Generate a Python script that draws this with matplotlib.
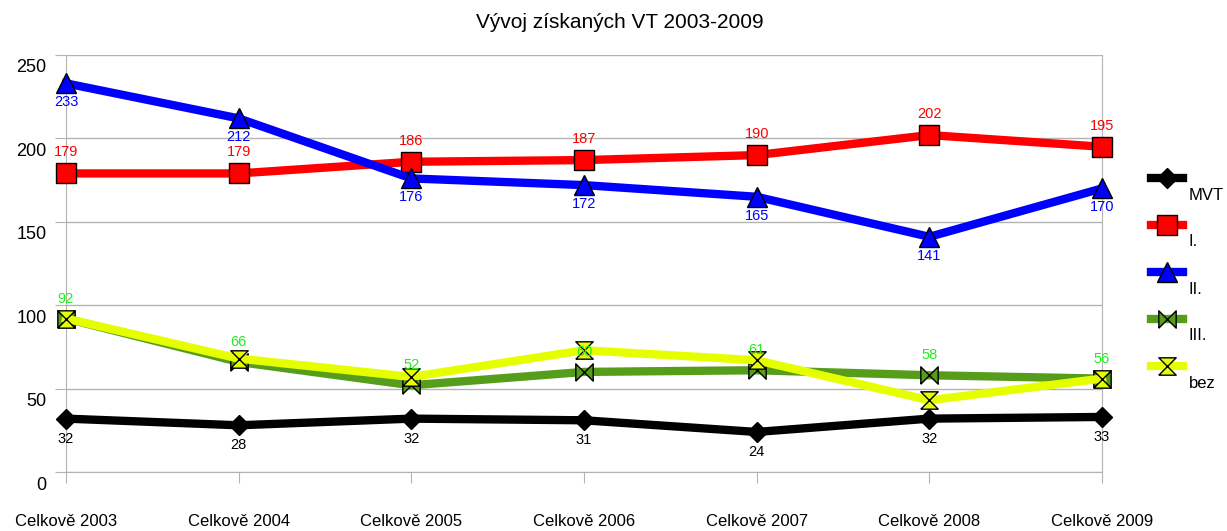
import matplotlib
matplotlib.use("Agg")
import matplotlib.pyplot as plt
from matplotlib.lines import Line2D
from matplotlib.transforms import ScaledTranslation

plt.rcParams['font.family'] = ['Liberation Sans', 'DejaVu Sans']

roky = ["Celkově 2003", "Celkově 2004", "Celkově 2005", "Celkově 2006",
        "Celkově 2007", "Celkově 2008", "Celkově 2009"]
mvt = [32, 28, 32, 31, 24, 32, 33]
prvni = [179, 179, 186, 187, 190, 202, 195]
druha = [233, 212, 176, 172, 165, 141, 170]
treti = [92, 66, 52, 60, 61, 58, 56]
bez = [92, 68, 57, 73, 67, 43, 56]

bowtie = [(-1, -1), (-1, 1), (1, -1), (1, 1), (-1, -1)]
hourglass = [(-1, -1), (1, -1), (-1, 1), (1, 1), (-1, -1)]

# name, values, color, marker, marker size, label color, label offset (px)
serie = [
    ("MVT", mvt, "#000000", "D", 10.5, "#000000", -20),
    ("I.", prvni, "#ff0000", "s", 14, "#ff0000", 21),
    ("II.", druha, "#0000ff", "^", 14, "#0000ff", -19),
    ("III.", treti, "#579d1c", bowtie, 12.5, "#22ee22", 20),
    ("bez", bez, "#e6ff00", hourglass, 12.5, None, 0),
]

fig = plt.figure(figsize=(12.27, 5.31), dpi=100)
ax = fig.add_axes([66 / 1227, 59 / 531, 1036 / 1227, 417 / 531])
x = list(range(len(roky)))

for name, vals, col, mk, ms, lcol, off in serie:
    ax.plot(x, vals, color=col, lw=6, marker=mk, ms=ms, mfc=col,
            mec="black", mew=1, clip_on=False, zorder=3)
    if lcol:
        for xi, v in zip(x, vals):
            ax.annotate(str(v), (xi, v), xytext=(0, off * 0.72),
                        textcoords="offset points", ha="center", va="center",
                        fontsize=10.5, color=lcol, zorder=5)

ax.set_xlim(0, 6)
ax.set_ylim(0, 250)
ax.set_yticks([0, 50, 100, 150, 200, 250])
ax.set_xticks(x)
ax.set_xticklabels(roky, fontsize=12)
ax.tick_params(axis="x", length=8, color="#b3b3b3", pad=22)
ax.tick_params(axis="y", length=8, color="#b3b3b3", pad=6, labelsize=13)
for lab in ax.get_yticklabels():
    lab.set_transform(lab.get_transform() + ScaledTranslation(0, -11 / 100, fig.dpi_scale_trans))
ax.grid(axis="y", color="#b3b3b3", lw=1)
ax.set_axisbelow(True)
for s in ax.spines.values():
    s.set_color("#b3b3b3")
ax.spines["top"].set_visible(False)

fig.text(620 / 1227, 1 - 22 / 531, "Vývoj získaných VT 2003-2009",
         ha="center", va="center", fontsize=15)

# legend drawn by hand (labels sit below the symbols)
for i, (name, vals, col, mk, ms, lcol, off) in enumerate(serie):
    yh = 1 - (178 + 47 * i) / 531
    yl = 1 - (195 + 47 * i) / 531
    fig.add_artist(Line2D([1151 / 1227, 1167 / 1227, 1183 / 1227], [yh, yh, yh],
                          color=col, lw=6, marker=mk, ms=ms, mfc=col,
                          mec="black", mew=1, markevery=[1]))
    fig.text(1189 / 1227, yl, name, ha="left", va="center", fontsize=12)

fig.savefig("out.png", dpi=100)
